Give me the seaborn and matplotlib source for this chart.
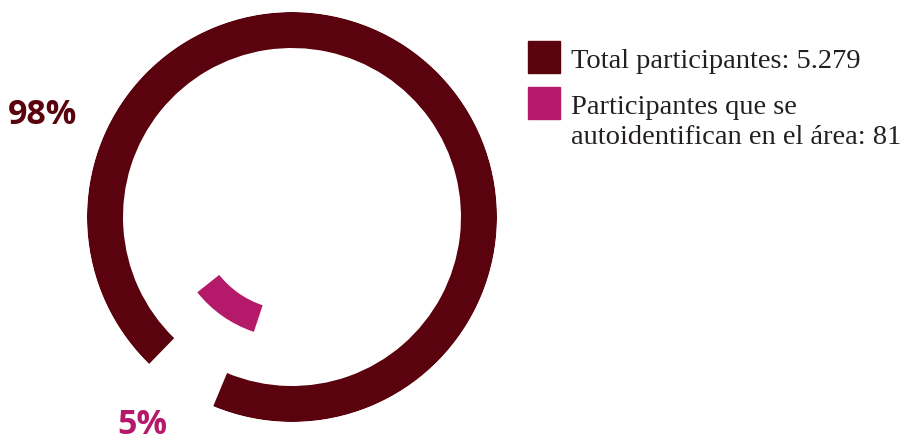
import numpy as np
import matplotlib.pyplot as plt
import seaborn as sns
from matplotlib.patches import Rectangle

# data
series = ["Total participantes: 5.279",
          "Participantes que se\nautoidentifican en el área: 81"]
pct_labels = ["98%", "5%"]
arc_share = [0.94, 0.092]          # share of the full circle each arc sweeps as drawn
arc_start_deg = [247.4, 218.5]     # where each arc begins (counter-clockwise sweep)

colors = ["#5A030E", "#B5196A"]
text_color = "#231F20"

sns.set_theme(style="white")
plt.rcParams["font.family"] = ["DejaVu Sans"]

W, H = 909, 442
fig = plt.figure(figsize=(W / 100, H / 100), dpi=100)

cx, cy, R = 292, 217, 205
ax = fig.add_axes([(cx - R) / W, (H - cy - R) / H, 2 * R / W, 2 * R / H],
                  projection="polar")
ax.set_ylim(0, R)

# ring radii (pixels), outer ring and inner ring
bottoms = [169, 93]
thick = [36, 28]

for share, start, b, t, c in zip(arc_share, arc_start_deg, bottoms, thick, colors):
    ax.bar(np.radians(start), t, width=share * 2 * np.pi, bottom=b,
           align="edge", color=c, edgecolor="none", linewidth=0)

ax.set_axis_off()

# percentage labels
fig.text(8 / W, 1 - 115 / H, pct_labels[0], color=colors[0], fontsize=24.5,
         fontweight="bold", family="Open Sans", ha="left", va="center")
fig.text(117 / W, 1 - 425 / H, pct_labels[1], color=colors[1], fontsize=24.5,
         fontweight="bold", family="Open Sans", ha="left", va="center")

# legend drawn by hand
legend_top = [41, 87]
for lab, c, top in zip(series, colors, legend_top):
    fig.patches.append(Rectangle((528 / W, 1 - (top + 32) / H), 32 / W, 32 / H,
                                 transform=fig.transFigure, color=c))
    for i, line in enumerate(lab.split("\n")):
        fig.text(571 / W, 1 - (top + 27 + 30 * i) / H, line, color=text_color,
                 fontsize=20.5, family="Liberation Serif", ha="left",
                 va="baseline")

fig.savefig("out.png", dpi=100)
